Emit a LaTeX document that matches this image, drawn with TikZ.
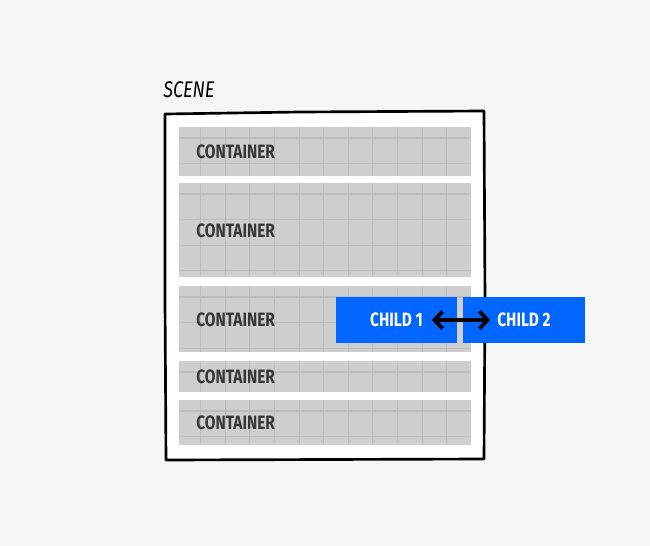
\documentclass[tikz,border=0pt]{standalone}
\usepackage{fontspec}
\setmainfont{Fira Sans}
\usetikzlibrary{arrows.meta}
\definecolor{bg}{RGB}{246,246,246}
\definecolor{cont}{RGB}{206,206,206}
\definecolor{gridc}{RGB}{188,188,188}
\definecolor{blue}{RGB}{0,102,255}
\definecolor{txt}{RGB}{55,55,55}
\begin{document}
\begin{tikzpicture}[x=0.75pt,y=-0.75pt,
  lab/.style={font=\bfseries\fontsize{14.5}{14.5}\selectfont, text=txt, anchor=west, inner sep=0pt},
  child/.style={fill=blue, text=white, minimum width=91pt, minimum height=34.5pt, inner sep=0pt, font=\bfseries\fontsize{14.5}{14.5}\selectfont}]
\fill[bg] (0,0) rectangle (650,546);
\useasboundingbox (0,0) rectangle (650,546);
\fill[white] (165,112) rectangle (485,460);
\draw[line width=2pt, line join=round] (165,114) -- (300,112) -- (484,111) -- (485,300) -- (484,459) -- (166,460) -- (165,300) -- cycle;
\node[anchor=west, inner sep=0pt, font=\itshape\fontsize{17}{17}\selectfont] (scene) at (163,90) {\scalebox{0.8}[1]{SCENE}};
\foreach \t/\b/\ty [count=\i] in {127/176/152, 183/277/231, 286/352/320, 361/392/377, 400/445/423}{
  \fill[cont] (179,\t) rectangle (471,\b);
  \begin{scope}
    \clip (179,\t) rectangle (471,\b);
    \foreach \gx in {0,...,10} \draw[gridc, line width=0.8pt] (200.7+24.6*\gx,\t) -- (200.7+24.6*\gx,\b);
    \foreach \gy in {0,...,4} \draw[gridc, line width=0.8pt] (179,\t+11+25.6*\gy) -- (471,\t+11+25.6*\gy);
  \end{scope}
  \node[lab] (c\i) at (196,\ty) {\scalebox{0.8}[1]{CONTAINER}};
}
\node[child] (ch1) at (396.5,320) {\scalebox{0.8}[1]{CHILD 1}};
\node[child] (ch2) at (524,320) {\scalebox{0.8}[1]{CHILD 2}};
\draw[line width=2.8pt, {Straight Barb[length=6pt,width=13pt]}-{Straight Barb[length=6pt,width=13pt]}] (432,320) -- (490,320);
\end{tikzpicture}
\end{document}
